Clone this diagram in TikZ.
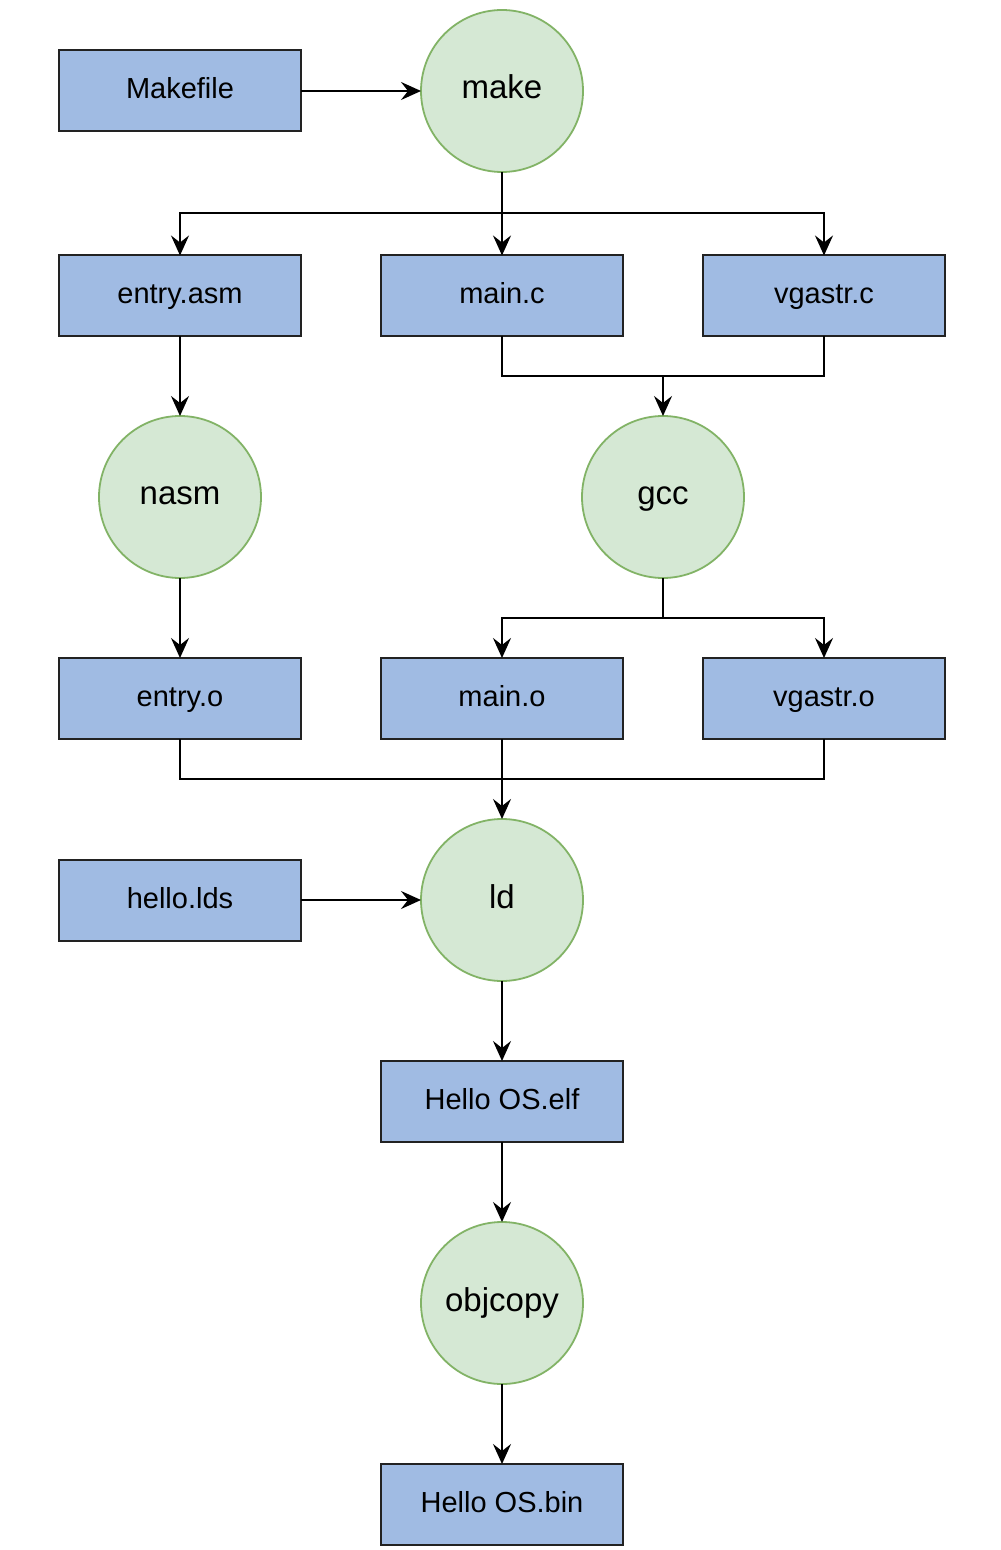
\documentclass[tikz,border=0pt]{standalone}
\usepackage{fontspec}
\setmainfont{Liberation Sans}
\usetikzlibrary{arrows.meta}
\definecolor{boxfill}{HTML}{A0BBE3}
\definecolor{boxline}{HTML}{222222}
\definecolor{circfill}{HTML}{D5E8D4}
\definecolor{circline}{HTML}{82B366}
\begin{document}
\begin{tikzpicture}[x=0.5pt,y=-0.5pt,
  filebox/.style={draw=boxline,fill=boxfill,line width=1pt,minimum width=121pt,minimum height=40.5pt,inner sep=0pt,outer sep=0pt,text height=0.85em,text depth=0.05em,font=\fontsize{14.5}{16}\selectfont},
  tool/.style={circle,draw=circline,fill=circfill,line width=0.9pt,minimum size=81pt,inner sep=0pt,outer sep=0pt,text height=0.85em,text depth=0.05em,font=\fontsize{16.5}{18}\selectfont},
  conn/.style={draw=black,line width=1pt},
  arr/.style={conn,-{Stealth[length=10pt,width=9pt,inset=3.5pt]}}]
\useasboundingbox (0,0) rectangle (1000,1550);
% nodes
\node[filebox] (makefile) at (180,91) {Makefile};
\node[tool] (make) at (502,91) {make};
\node[filebox] (entryasm) at (180,296) {entry.asm};
\node[filebox] (mainc) at (502,296) {main.c};
\node[filebox] (vgastrc) at (824,296) {vgastr.c};
\node[tool] (nasm) at (180,497) {nasm};
\node[tool] (gcc) at (663,497) {gcc};
\node[filebox] (entryo) at (180,698.5) {entry.o};
\node[filebox] (maino) at (502,698.5) {main.o};
\node[filebox] (vgastro) at (824,698.5) {vgastr.o};
\node[tool] (ld) at (502,900) {ld};
\node[filebox] (hellolds) at (180,900) {hello.lds};
\node[filebox] (elf) at (502,1101.5) {Hello OS.elf};
\node[tool] (objcopy) at (502,1303) {objcopy};
\node[filebox] (bin) at (502,1504.5) {Hello OS.bin};
% junctions
\coordinate (j1) at (502,213);
\coordinate (j2) at (663,376);
\coordinate (j3) at (663,618);
\coordinate (j4) at (502,779);
% connectors
\draw[arr] (makefile) -- (make);
\draw[arr] (make) -- (mainc);
\draw[arr] (j1) -| (entryasm);
\draw[arr] (j1) -| (vgastrc);
\draw[arr] (entryasm) -- (nasm);
\draw[conn] (mainc) |- (j2);
\draw[conn] (vgastrc) |- (j2);
\draw[arr] (j2) -- (gcc);
\draw[arr] (nasm) -- (entryo);
\draw[conn] (gcc) -- (j3);
\draw[arr] (j3) -| (maino);
\draw[arr] (j3) -| (vgastro);
\draw[conn] (entryo) |- (j4);
\draw[conn] (vgastro) |- (j4);
\draw[arr] (maino) -- (ld);
\draw[arr] (hellolds) -- (ld);
\draw[arr] (ld) -- (elf);
\draw[arr] (elf) -- (objcopy);
\draw[arr] (objcopy) -- (bin);
\end{tikzpicture}
\end{document}
